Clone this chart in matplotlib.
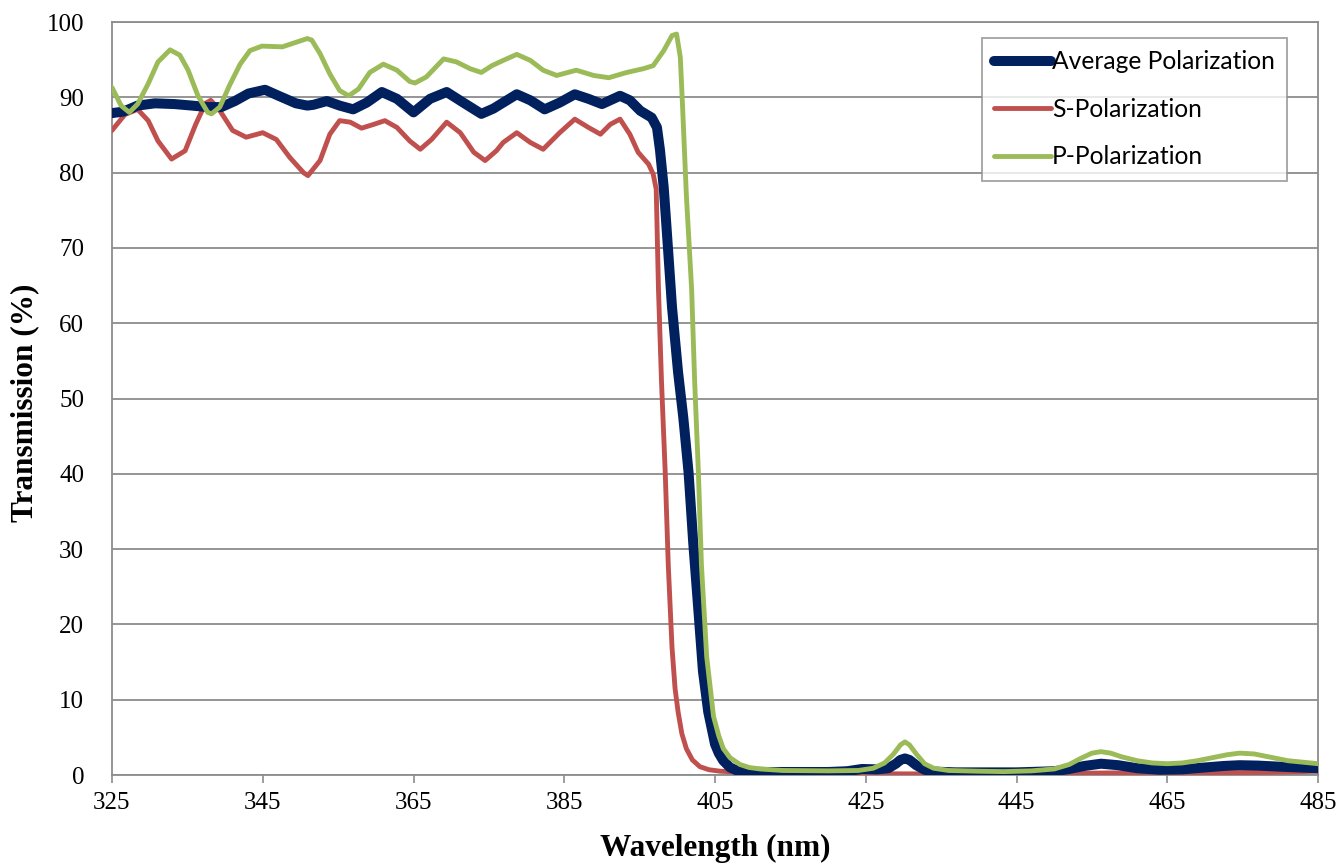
import matplotlib
matplotlib.use("Agg")
import matplotlib.pyplot as plt

# ---- data ----
avg_x = [325, 326.5, 328.4, 330.7, 333.3, 335.6, 337.7, 339.5, 341.3, 343.1, 345.3, 347.1,
         349.4, 350.9, 351.7, 353.5, 355.2, 357.0, 358.8, 360.8, 362.8, 365.0, 367.2,
         369.4, 371.6, 374.0, 375.6, 376.9, 378.7, 380.5, 382.4, 384.4, 386.4, 388.2,
         390.0, 392.4, 393.7, 395.1, 396.6, 397.3, 397.7, 398.2, 398.8, 399.3, 400.1,
         400.8, 401.5, 402.1, 402.8, 403.4, 404.1, 405.0, 405.5, 406.1, 407.0, 407.9,
         409.0, 412, 416, 420, 422.5, 424.5, 426.5, 428, 429, 429.6, 430.2, 430.8, 431.7,
         432.8, 434, 437, 440, 445, 450, 452, 454, 456.2, 458.5, 461, 464, 467, 470,
         472.5, 474.6, 477, 480, 485]
avg_y = [87.9, 88.1, 88.9, 89.2, 89.1, 88.9, 88.7, 88.7, 89.5, 90.5, 91.0, 90.2,
         89.2, 88.9, 89.0, 89.5, 88.9, 88.4, 89.3, 90.7, 89.8, 88.0, 89.8,
         90.7, 89.3, 87.8, 88.5, 89.3, 90.4, 89.6, 88.4, 89.3, 90.4, 89.8,
         89.1, 90.2, 89.6, 88.2, 87.3, 86.0, 83.0, 78.0, 69.4, 62.1, 53.5,
         47.4, 40.1, 31.0, 21.8, 13.8, 8.4, 4.1, 2.9, 1.9, 1.0, 0.6,
         0.45, 0.4, 0.4, 0.4, 0.5, 0.8, 0.75, 0.9, 1.5, 2.0, 2.2, 2.0, 1.3,
         0.7, 0.45, 0.35, 0.35, 0.35, 0.5, 0.8, 1.2, 1.5, 1.3, 0.9, 0.7, 0.75, 1.0,
         1.2, 1.3, 1.25, 1.1, 0.9]

s_x = [325, 326.7, 328.4, 329.8, 331.1, 332.9, 334.7, 336.1, 337.4, 338.1, 339.2, 341.0,
       342.8, 345.0, 346.8, 348.6, 350.4, 351.0, 352.6, 353.9, 355.2, 356.6, 358.1,
       359.7, 361.2, 362.8, 364.5, 365.9, 367.4, 369.4, 371.2, 373.0, 374.5, 376.0,
       376.9, 378.7, 380.5, 382.2, 384.4, 386.4, 388.2, 389.8, 391.1, 392.4, 393.7,
       394.8, 396.2, 396.8, 397.2, 397.5, 397.9, 398.4, 398.8, 399.3, 399.7, 400.1,
       400.6, 401.2, 402.0, 403.0, 404.2, 405.7, 410, 420, 430, 440, 450, 460, 470,
       478, 485]
s_y = [85.6, 87.7, 88.4, 86.9, 84.2, 81.8, 82.9, 86.4, 89.2, 89.6, 88.4, 85.6,
       84.7, 85.3, 84.4, 82.0, 80.0, 79.6, 81.6, 85.1, 86.9, 86.7, 85.9,
       86.4, 86.9, 86.0, 84.2, 83.1, 84.4, 86.7, 85.3, 82.7, 81.6, 82.9,
       84.0, 85.3, 84.0, 83.1, 85.3, 87.1, 86.0, 85.1, 86.4, 87.1, 85.1,
       82.7, 81.1, 79.8, 77.8, 64.5, 52.3, 40.1, 27.9, 16.9, 11.5, 8.4,
       5.5, 3.5, 2.0, 1.1, 0.7, 0.5, 0.3, 0.2, 0.15, 0.15, 0.2, 0.3, 0.3,
       0.35, 0.5]

p_x = [325, 326.2, 327.3, 328.4, 329.8, 331.1, 332.7, 334.0, 335.1, 336.4, 337.7, 338.2,
       339.3, 340.6, 342.0, 343.3, 344.9, 347.6, 349.4, 350.9, 351.5, 352.6, 353.9,
       355.2, 356.4, 357.7, 359.2, 361.0, 362.8, 364.5, 365.2, 366.7, 369.0, 370.7,
       372.5, 374.0, 375.4, 376.9, 378.7, 380.5, 382.2, 384.0, 386.6, 388.9, 390.9,
       393.3, 395.5, 396.8, 398.2, 399.3, 399.9, 400.4, 400.7, 401.2, 401.9, 402.3,
       402.8, 403.2, 403.9, 404.8, 405.5, 406.1, 407.0, 408.3, 409.5, 411.0, 414,
       420, 424, 426, 427.5, 428.7, 429.6, 430.2, 430.8, 431.7, 432.8, 434, 436,
       440, 443.3, 447, 450, 452, 453.5, 455, 456.2, 457.5, 459, 461, 463, 465, 467,
       469, 471, 473, 474.6, 476.5, 478.5, 481, 483, 485]
p_y = [91.3, 88.9, 88.0, 89.1, 91.8, 94.7, 96.3, 95.6, 93.6, 90.2, 88.0, 87.8,
       88.7, 91.6, 94.4, 96.2, 96.8, 96.7, 97.3, 97.8, 97.6, 95.8, 93.1,
       90.9, 90.2, 91.1, 93.3, 94.4, 93.6, 92.1, 91.9, 92.7, 95.1, 94.7,
       93.8, 93.3, 94.2, 94.9, 95.7, 94.9, 93.6, 92.9, 93.6, 92.9, 92.6,
       93.3, 93.8, 94.2, 96.2, 98.2, 98.4, 95.3, 88.7, 77.0, 64.5, 52.3,
       40.1, 27.9, 15.7, 7.8, 5.2, 3.5, 2.3, 1.4, 1.0, 0.8, 0.6,
       0.55, 0.6, 0.9, 1.6, 2.8, 4.0, 4.4, 4.0, 2.8, 1.5, 0.9, 0.6,
       0.5, 0.45, 0.55, 0.8, 1.4, 2.2, 2.9, 3.1, 2.9, 2.4, 1.9, 1.6, 1.5, 1.6,
       1.9, 2.3, 2.7, 2.9, 2.8, 2.4, 1.9, 1.7, 1.5]

x_ticks = [325, 345, 365, 385, 405, 425, 445, 465, 485]
y_ticks = [0, 10, 20, 30, 40, 50, 60, 70, 80, 90, 100]
labels = ["Average Polarization", "S-Polarization", "P-Polarization"]

# ---- figure ----
W, H, DPI = 1342, 865, 100
fig = plt.figure(figsize=(W / DPI, H / DPI), dpi=DPI)
L, R, T, B = 112, 1318, 22, 775
ax = fig.add_axes([L / W, 1 - B / H, (R - L) / W, (B - T) / H])

serif = ["Liberation Serif", "DejaVu Serif"]
gray = "#8C8C8C"

ax.plot(avg_x, avg_y, color="#00205E", lw=7.2, solid_capstyle="round",
        solid_joinstyle="round", label=labels[0], zorder=4)
ax.plot(s_x, s_y, color="#C0504D", lw=3.5, solid_capstyle="round",
        solid_joinstyle="round", label=labels[1], zorder=3)
ax.plot(p_x, p_y, color="#9BBB59", lw=3.5, solid_capstyle="round",
        solid_joinstyle="round", label=labels[2], zorder=5)

ax.set_xlim(325, 485)
ax.set_ylim(0, 100)
ax.set_xticks(x_ticks)
ax.set_yticks(y_ticks)
ax.set_xticklabels([str(v) for v in x_ticks], fontfamily=serif, fontsize=18)
ax.set_yticklabels([str(v) for v in y_ticks], fontfamily=serif, fontsize=18)
ax.tick_params(axis="x", direction="out", length=6, width=1.2, color=gray, pad=6)
ax.tick_params(axis="y", length=0, pad=20)
ax.grid(axis="y", color=gray, lw=1.3)
ax.set_axisbelow(True)
for s in ax.spines.values():
    s.set_color(gray)
    s.set_linewidth(1.3)

fig.text((L + R) / 2 / W, 1 - 848 / H, "Wavelength (nm)", ha="center", va="center",
         fontfamily=serif, fontweight="bold", fontsize=22.5)
fig.text(25 / W, 1 - 403 / H, "Transmission (%)", ha="center", va="center",
         rotation=90, fontfamily=serif, fontweight="bold", fontsize=22.5)

leg = ax.legend(loc="upper right", bbox_to_anchor=((1287 - L) / (R - L), (B - 38) / (B - T)),
                borderaxespad=0, frameon=True, fancybox=False, edgecolor=gray,
                prop={"family": ["Lato", "DejaVu Sans"], "size": 17.7},
                handlelength=2.3, handletextpad=0.05, labelspacing=1.0,
                borderpad=0.5)
leg.get_frame().set_linewidth(1.3)

fig.savefig("out.png", dpi=DPI)
